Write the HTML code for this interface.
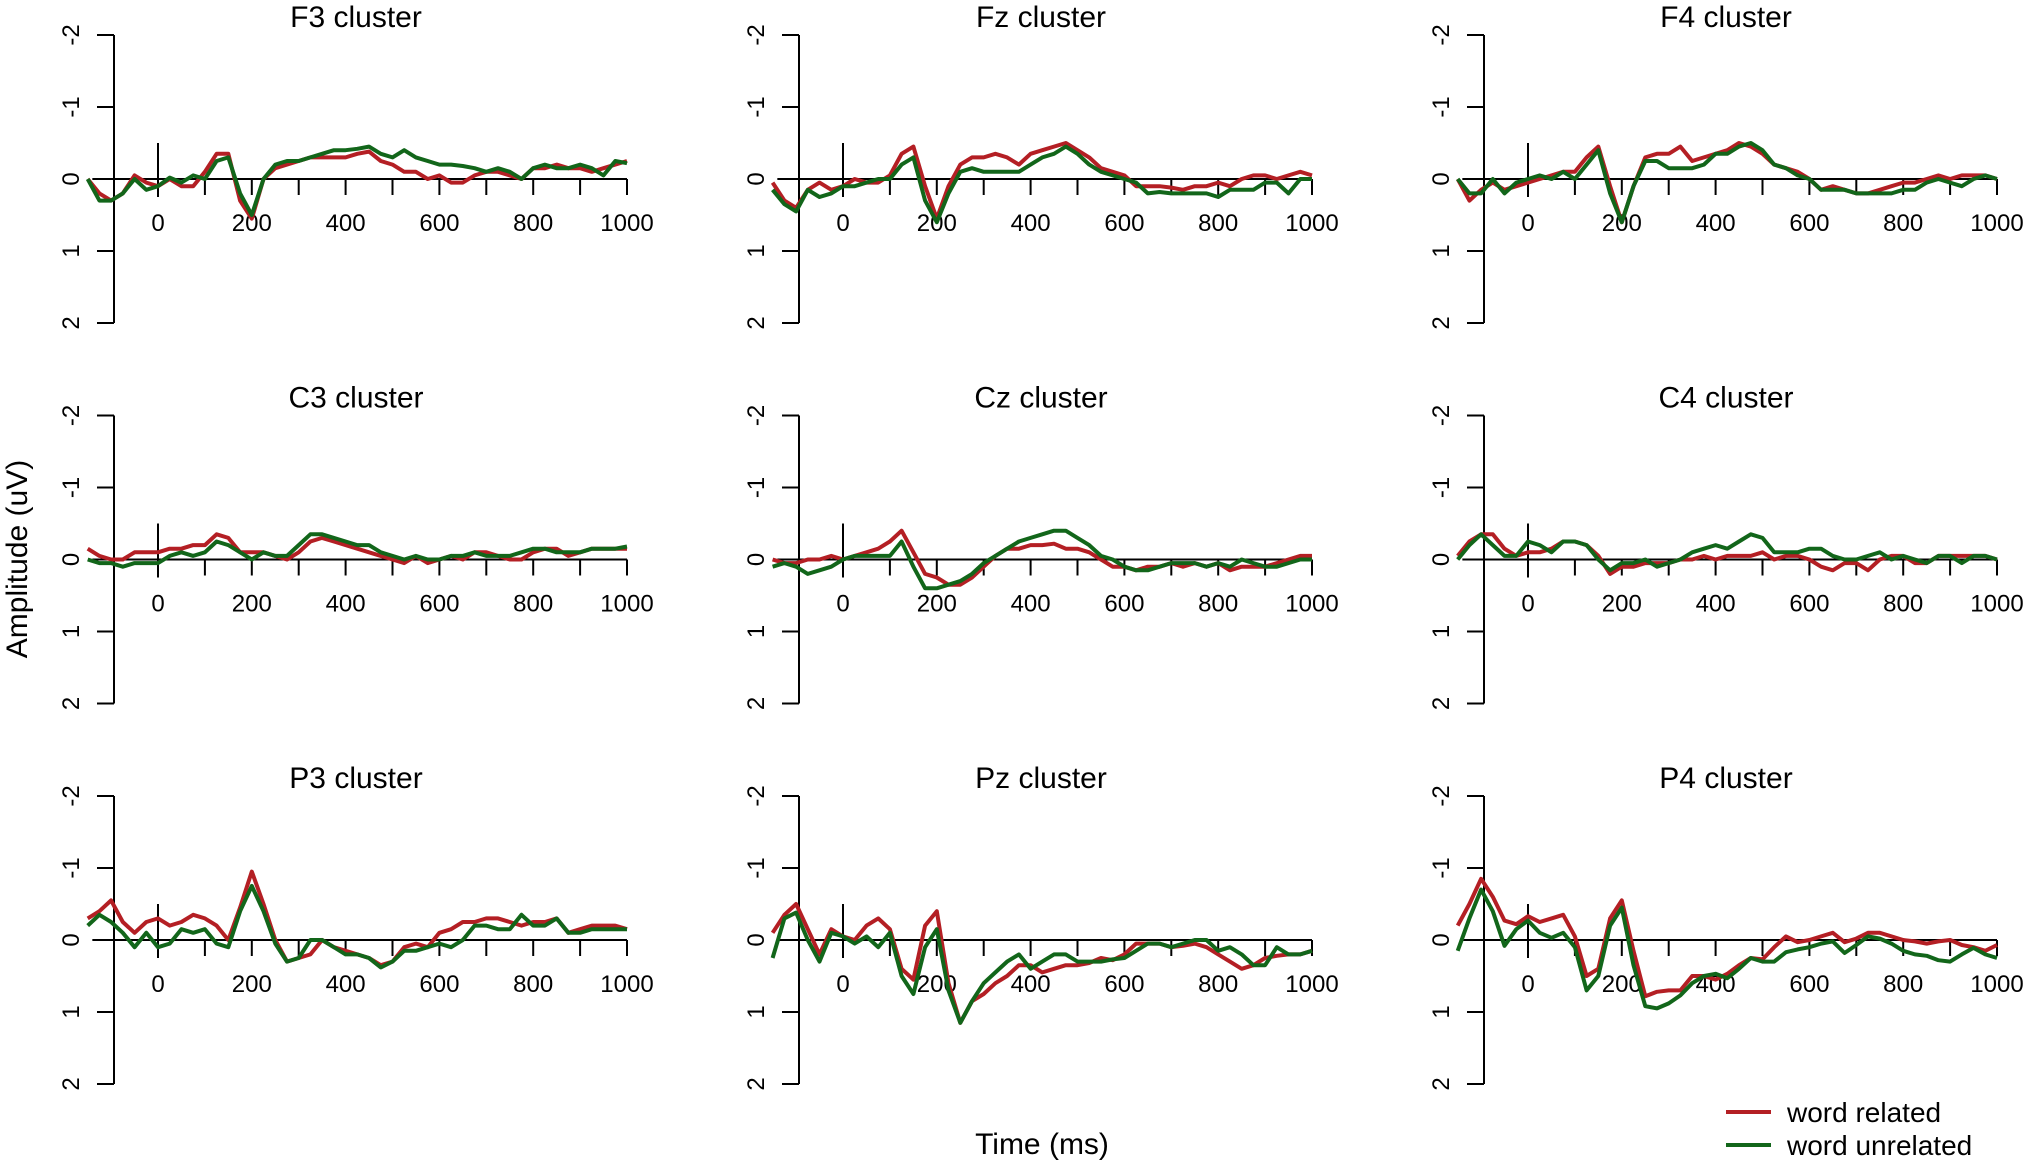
<!DOCTYPE html>
<html><head><meta charset="utf-8"><style>
html,body{margin:0;padding:0;background:#fff;}
svg{display:block;font-family:"Liberation Sans",sans-serif;}
</style></head><body>
<svg id="chart" width="2030" height="1167" viewBox="0 0 2030 1167" xmlns="http://www.w3.org/2000/svg">
<rect width="2030" height="1167" fill="#fff"/>
<text x="0" y="0" transform="translate(27,559) rotate(-90)" text-anchor="middle" font-size="30">Amplitude (uV)</text>
<text x="1042" y="1154" text-anchor="middle" font-size="30">Time (ms)</text>
<g>
<line x1="1726" y1="1112" x2="1771" y2="1112" stroke="#b41f24" stroke-width="4"/>
<text x="1787" y="1122" font-size="28">word related</text>
<line x1="1726" y1="1145" x2="1771" y2="1145" stroke="#12661a" stroke-width="4"/>
<text x="1787" y="1155" font-size="28">word unrelated</text>
</g>
</svg>
<script>
const times = [];
for (let t = -150; t <= 1000; t += 25) times.push(t);
const panelNames = ["F3","Fz","F4","C3","Cz","C4","P3","Pz","P4"];
const yTicks = [-2,-1,0,1,2];
const xTickMarks = [100,200,300,400,500,600,700,800,900,1000];
const xTickLabels = [0,200,400,600,800,1000];

const relF3 = [0,0.2,0.3,0.2,-0.05,0.05,0.1, 0,0.1,0.1,-0.1,-0.35,-0.35,0.3,0.55,0,-0.15,-0.2,-0.25,-0.3,-0.3,-0.3,-0.3,-0.35,-0.38,-0.25,-0.2,-0.1,-0.1,0,-0.05,0.05,0.05,-0.05,-0.1,-0.1,-0.05,0,-0.15,-0.15,-0.2,-0.15,-0.15,-0.1,-0.15,-0.2,-0.25];
const unrF3 = [0,0.3,0.3,0.2,0,0.15,0.1, -0.02,0.05,-0.05,0,-0.25,-0.3,0.2,0.5,0,-0.2,-0.25,-0.25,-0.3,-0.35,-0.4,-0.4,-0.42,-0.45,-0.35,-0.3,-0.4,-0.3,-0.25,-0.2,-0.2,-0.18,-0.15,-0.1,-0.15,-0.1,0,-0.15,-0.2,-0.15,-0.15,-0.2,-0.15,-0.05,-0.25,-0.22];
const relFz = [0.05,0.3,0.4,0.15,0.05,0.15,0.1, 0,0.05,0.05,-0.05,-0.35,-0.45,0.1,0.55,0.1,-0.2,-0.3,-0.3,-0.35,-0.3,-0.2,-0.35,-0.4,-0.45,-0.5,-0.4,-0.3,-0.15,-0.1,-0.05,0.1,0.1,0.1,0.12,0.15,0.1,0.1,0.05,0.1,0,-0.05,-0.05,0,-0.05,-0.1,-0.05];
const unrFz = [0.15,0.35,0.45,0.15,0.25,0.2,0.1, 0.1,0.05,0,0,-0.2,-0.3,0.3,0.6,0.2,-0.1,-0.15,-0.1,-0.1,-0.1,-0.1,-0.2,-0.3,-0.35,-0.45,-0.35,-0.2,-0.1,-0.05,0,0.05,0.2,0.18,0.2,0.2,0.2,0.2,0.25,0.15,0.15,0.15,0.05,0.05,0.2,0,0];
const relF4 = [0,0.3,0.15,0.05,0.15,0.1,0.05, 0,-0.05,-0.1,-0.1,-0.3,-0.45,0.1,0.6,0.1,-0.3,-0.35,-0.35,-0.45,-0.25,-0.3,-0.35,-0.4,-0.5,-0.45,-0.35,-0.2,-0.15,-0.1,0,0.15,0.1,0.15,0.2,0.2,0.15,0.1,0.05,0.05,0,-0.05,0,-0.05,-0.05,-0.05,0];
const unrF4 = [0,0.2,0.2,0,0.2,0.05,0, -0.05,0,-0.1,0,-0.2,-0.4,0.2,0.6,0.1,-0.25,-0.25,-0.15,-0.15,-0.15,-0.2,-0.35,-0.35,-0.45,-0.5,-0.4,-0.2,-0.15,-0.05,0,0.15,0.15,0.15,0.2,0.2,0.2,0.2,0.15,0.15,0.05,0,0.05,0.1,0,-0.05,0];
const relC3 = [-0.15,-0.05,0,0,-0.1,-0.1,-0.1, -0.15,-0.15,-0.2,-0.2,-0.35,-0.3,-0.1,-0.1,-0.1,-0.05,0,-0.1,-0.25,-0.3,-0.25,-0.2,-0.15,-0.1,-0.05,0,0.05,-0.05,0.05,0,-0.05,0,-0.1,-0.1,-0.05,0,0,-0.1,-0.15,-0.15,-0.05,-0.1,-0.15,-0.15,-0.15,-0.15];
const unrC3 = [0,0.05,0.05,0.1,0.05,0.05,0.05, -0.05,-0.1,-0.05,-0.1,-0.25,-0.2,-0.1,0,-0.1,-0.05,-0.05,-0.2,-0.35,-0.35,-0.3,-0.25,-0.2,-0.2,-0.1,-0.05,0,-0.05,0,0,-0.05,-0.05,-0.1,-0.05,-0.05,-0.05,-0.1,-0.15,-0.15,-0.1,-0.1,-0.1,-0.15,-0.15,-0.15,-0.18];
const relCz = [0,0.05,0.05,0,0,-0.05,0, -0.05,-0.1,-0.15,-0.25,-0.4,-0.1,0.2,0.25,0.35,0.35,0.25,0.1,-0.05,-0.15,-0.15,-0.2,-0.2,-0.22,-0.15,-0.15,-0.1,0,0.1,0.1,0.15,0.1,0.1,0.05,0.1,0.05,0.1,0.05,0.15,0.1,0.1,0.1,0.05,0,-0.05,-0.05];
const unrCz = [0.1,0.05,0.1,0.2,0.15,0.1,0, -0.05,-0.05,-0.05,-0.05,-0.25,0.1,0.4,0.4,0.35,0.3,0.2,0.05,-0.05,-0.15,-0.25,-0.3,-0.35,-0.4,-0.4,-0.3,-0.2,-0.05,0,0.1,0.15,0.15,0.1,0.05,0.05,0.05,0.1,0.05,0.1,0,0.05,0.1,0.1,0.05,0,0];
const relC4 = [-0.05,-0.25,-0.35,-0.35,-0.15,-0.05,-0.1, -0.1,-0.15,-0.25,-0.25,-0.2,-0.05,0.2,0.1,0.1,0.05,0.05,0.05,0,0,-0.05,0,-0.05,-0.05,-0.05,-0.1,0,-0.05,-0.05,0,0.1,0.15,0.05,0.05,0.15,0,-0.05,-0.05,0.05,0.05,-0.05,-0.05,-0.05,-0.05,-0.05,0];
const unrC4 = [0,-0.2,-0.35,-0.2,-0.05,-0.05,-0.25, -0.2,-0.1,-0.25,-0.25,-0.2,0,0.15,0.05,0.05,0,0.1,0.05,0,-0.1,-0.15,-0.2,-0.15,-0.25,-0.35,-0.3,-0.1,-0.1,-0.1,-0.15,-0.15,-0.05,0,0,-0.05,-0.1,0,-0.05,0,0.05,-0.05,-0.05,0.05,-0.05,-0.05,0];
const relP3 = [-0.3,-0.4,-0.55,-0.25,-0.1,-0.25,-0.3, -0.2,-0.25,-0.35,-0.3,-0.2,0,-0.45,-0.95,-0.5,0,0.3,0.25,0.2,0,0.1,0.15,0.2,0.25,0.35,0.3,0.1,0.05,0.1,-0.1,-0.15,-0.25,-0.25,-0.3,-0.3,-0.25,-0.2,-0.25,-0.25,-0.3,-0.1,-0.15,-0.2,-0.2,-0.2,-0.15];
const unrP3 = [-0.2,-0.35,-0.25,-0.1,0.1,-0.1,0.1, 0.05,-0.15,-0.1,-0.15,0.05,0.1,-0.4,-0.75,-0.4,0.05,0.3,0.25,0,0,0.1,0.2,0.2,0.25,0.38,0.3,0.15,0.15,0.1,0.05,0.1,0,-0.2,-0.2,-0.15,-0.15,-0.35,-0.2,-0.2,-0.3,-0.1,-0.1,-0.15,-0.15,-0.15,-0.15];
const relPz = [-0.1,-0.35,-0.5,-0.15,0.2,-0.15,-0.05, 0,-0.2,-0.3,-0.15,0.4,0.55,-0.2,-0.4,0.6,1.15,0.85,0.75,0.6,0.5,0.35,0.35,0.45,0.4,0.35,0.35,0.32,0.25,0.28,0.2,0.05,0.05,0.05,0.1,0.08,0.05,0.1,0.2,0.3,0.4,0.35,0.25,0.22,0.2,0.2,0.15];
const unrPz = [0.25,-0.3,-0.38,0,0.3,-0.1,-0.05, 0.05,-0.05,0.1,-0.1,0.5,0.75,0.1,-0.15,0.7,1.15,0.85,0.6,0.45,0.3,0.2,0.4,0.3,0.2,0.2,0.3,0.3,0.3,0.27,0.25,0.15,0.05,0.05,0.1,0.05,0,0,0.15,0.1,0.2,0.35,0.35,0.1,0.2,0.2,0.15];
const relP4 = [-0.2,-0.5,-0.85,-0.6,-0.27,-0.22,-0.33, -0.25,-0.3,-0.35,-0.05,0.5,0.4,-0.3,-0.55,0.15,0.78,0.72,0.7,0.7,0.5,0.5,0.55,0.47,0.35,0.25,0.27,0.1,-0.05,0.03,0,-0.05,-0.1,0.03,-0.02,-0.1,-0.1,-0.05,0,0.02,0.05,0.02,0,0.07,0.1,0.15,0.07];
const unrP4 = [0.15,-0.3,-0.7,-0.4,0.08,-0.15,-0.27, -0.1,-0.03,-0.1,0.1,0.7,0.5,-0.2,-0.45,0.35,0.92,0.95,0.88,0.77,0.6,0.5,0.47,0.53,0.4,0.25,0.3,0.3,0.17,0.13,0.1,0.05,0.02,0.18,0.07,-0.05,-0.02,0.05,0.15,0.2,0.22,0.28,0.3,0.2,0.11,0.2,0.25];

const related = [relF3,relFz,relF4,relC3,relCz,relC4,relP3,relPz,relP4];
const unrelated = [unrF3,unrFz,unrF4,unrC3,unrCz,unrC4,unrP3,unrPz,unrP4];

const NS = "http://www.w3.org/2000/svg";
const svg = document.getElementById("chart");
function mk(tag, attrs, parent){
  const e = document.createElementNS(NS, tag);
  for (const k in attrs) e.setAttribute(k, attrs[k]);
  parent.appendChild(e);
  return e;
}
const COLW = 685, ROWH = 380.5;
panelNames.forEach((name, i) => {
  const c = i % 3, r = Math.floor(i / 3);
  const ox = c * COLW, oy = r * ROWH;
  const xs = t => 158 + ox + t * 0.469;
  const ys = v => 179 + oy + v * 72;
  const g = mk("g", {}, svg);
  
  

  const title = mk("text", {x: 356 + ox, y: 27 + oy, "text-anchor": "middle", "font-size": 30}, g);
  
  
  title.textContent = name + " cluster";

  const yax = mk("line", {x1: 114 + ox, y1: ys(-2), x2: 114 + ox, y2: ys(2), stroke: "#000", "stroke-width": 2}, g);
  
  
  yTicks.forEach(v => {
    const tk = mk("line", {x1: 97 + ox, y1: ys(v), x2: 114 + ox, y2: ys(v), stroke: "#000", "stroke-width": 2}, g);
    
    
    const lb = mk("text", {transform: "translate(" + (79 + ox) + "," + ys(v) + ") rotate(-90)", "text-anchor": "middle", "font-size": 24}, g);
    
    
    lb.textContent = String(v);
  });

  const xax = mk("line", {x1: xs(-140), y1: ys(0), x2: xs(1000), y2: ys(0), stroke: "#000", "stroke-width": 2}, g);
  
  
  const zl = mk("line", {x1: xs(0), y1: ys(-0.5), x2: xs(0), y2: ys(0.25), stroke: "#000", "stroke-width": 2}, g);
  
  
  xTickMarks.forEach(t => {
    const tk = mk("line", {x1: xs(t), y1: ys(0), x2: xs(t), y2: ys(0) + 16, stroke: "#000", "stroke-width": 2}, g);
    
    
  });
  xTickLabels.forEach(t => {
    const lb = mk("text", {x: xs(t), y: 231 + oy, "text-anchor": "middle", "font-size": 24}, g);
    
    
    lb.textContent = String(t);
  });

  [[related[i], "#b41f24", "related"], [unrelated[i], "#12661a", "unrelated"]].forEach(([vals, col, key]) => {
    const n = Math.min(vals.length, times.length);
    let d = "";
    for (let k = 0; k < n; k++) d += (k ? "L" : "M") + xs(times[k]).toFixed(1) + "," + ys(vals[k]).toFixed(1);
    const p = mk("path", {d: d, fill: "none", stroke: col, "stroke-width": 4, "stroke-linejoin": "round"}, g);
    
    
  });
});
</script>
</body></html>
